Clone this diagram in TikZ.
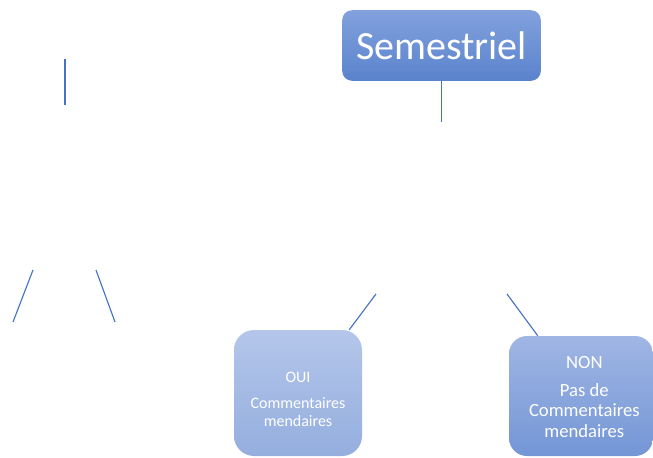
\documentclass[tikz,border=0pt]{standalone}
\usepackage{fontspec}
\setmainfont{Carlito}
\usetikzlibrary{positioning,calc}
\definecolor{linkblue}{RGB}{68,114,196}
\definecolor{semtop}{RGB}{130,161,221}
\definecolor{sembot}{RGB}{90,131,205}
\definecolor{ouitop}{RGB}{180,198,234}
\definecolor{ouibot}{RGB}{148,174,222}
\definecolor{nontop}{RGB}{160,182,228}
\definecolor{nonbot}{RGB}{116,150,214}

\begin{document}
\begin{tikzpicture}[x=0.75pt,y=-0.75pt,
    box/.style={inner sep=0pt,align=center,text=white},
    answer/.style={align=center,text=white,inner sep=0pt},
    link/.style={draw=linkblue,line width=0.85pt}]
    \useasboundingbox (0,0) rectangle (653,457);
    % top of the tree
    \node[box,rounded corners=7.5pt,top color=semtop,bottom color=sembot,
        minimum width=149pt,minimum height=53pt,font=\fontsize{30}{36}\selectfont]
        (sem) at (441.5,45.5) {Semestriel};
    \coordinate (semend) at (441.5,122);
    \draw[link] (sem.south) -- (semend);
    % the two answers
    \node[box,rounded corners=15pt,top color=ouitop,bottom color=ouibot,
        minimum width=96pt,minimum height=94.5pt] (oui) at (298,393) {};
    \node[answer,font=\fontsize{12}{14}\selectfont] (ouitxt)
        at ([yshift=-5pt]oui.center) {OUI\\[5pt]Commentaires\\mendaires};
    \node[box,rounded corners=13.5pt,top color=nontop,bottom color=nonbot,
        minimum width=108pt,minimum height=90pt] (non) at (581,396) {};
    \node[answer,font=\fontsize{14}{15.5}\selectfont] (nontxt)
        at ([xshift=2.5pt,yshift=-1pt]non.center) {NON\\[5pt]Pas de\\Commentaires\\mendaires};
    \coordinate (ouistart) at (376,294);
    \coordinate (nonstart) at (507,294);
    \draw[link] (ouistart) -- ([xshift=-9.75pt]oui.north east);
    \draw[link] (nonstart) -- ([xshift=21.75pt]non.north west);
    % loose strokes on the left
    \coordinate (la) at (65,59);
    \coordinate (lb) at (65,105);
    \draw[link] (la) -- (lb);
    \coordinate (lc) at (33,270);
    \coordinate (ld) at (13,322);
    \draw[link] (lc) -- (ld);
    \coordinate (le) at (96,270);
    \coordinate (lf) at (115,322);
    \draw[link] (le) -- (lf);
\end{tikzpicture}
\end{document}
